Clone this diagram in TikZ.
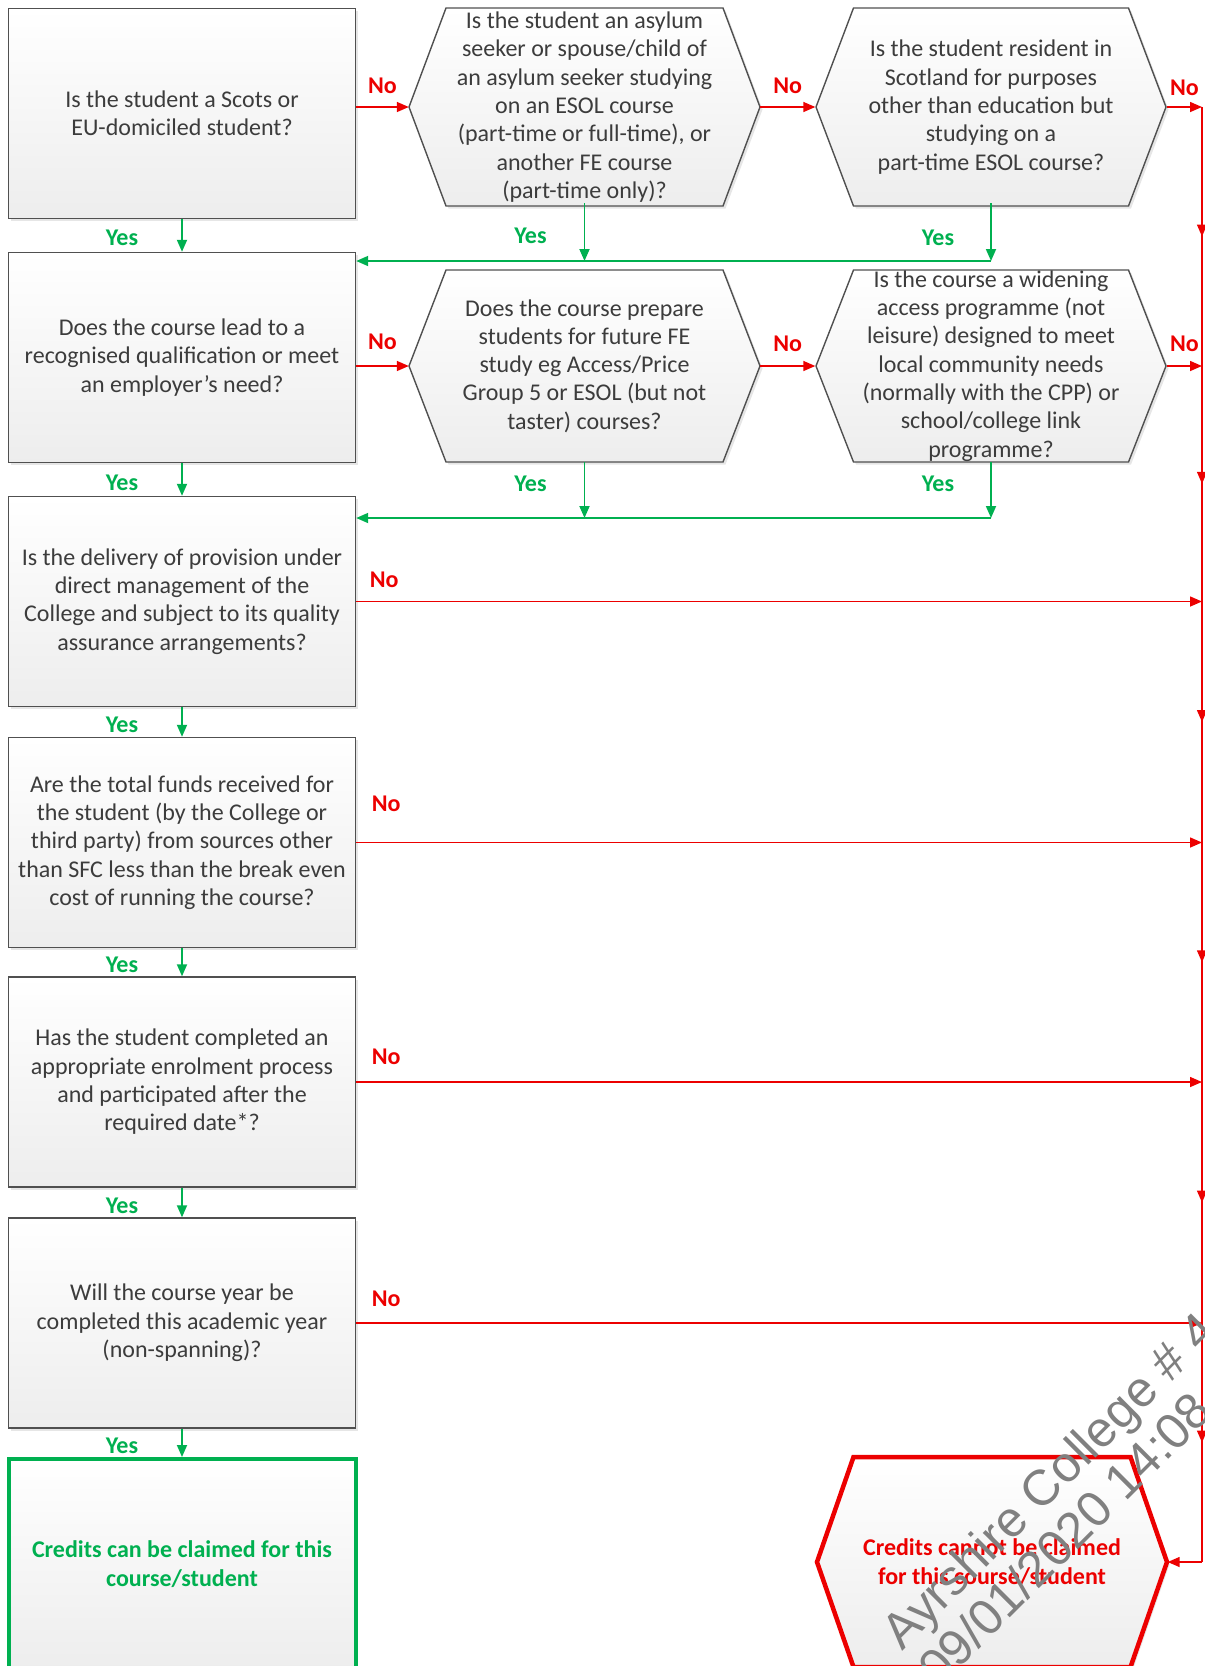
\documentclass[tikz,border=0pt]{standalone}
\usepackage{fontspec}
\setmainfont{Carlito}
\newfontfamily\wmfont{Liberation Sans}
\usetikzlibrary{arrows.meta, positioning, shadows, backgrounds, decorations.markings}

\definecolor{qgreen}{RGB}{0,176,80}
\definecolor{qred}{RGB}{236,0,0}
\definecolor{qline}{RGB}{80,80,80}
\definecolor{qtext}{RGB}{60,60,60}

\newcommand{\qsize}{\fontsize{24pt}{28.3pt}\selectfont}

% hexagon outline round a node: name, half top edge, half width, half height, style
\newcommand{\hexframe}[5]{%
  \draw[#5] ([xshift=-#2pt,yshift=#4pt]#1.center) -- ([xshift=#2pt,yshift=#4pt]#1.center)
    -- ([xshift=#3pt]#1.center) -- ([xshift=#2pt,yshift=-#4pt]#1.center)
    -- ([xshift=-#2pt,yshift=-#4pt]#1.center) -- ([xshift=-#3pt]#1.center) -- cycle;}

\tikzset{
  qbox/.style={rectangle, draw=qline, line width=1.4pt, top color=white, bottom color=black!7,
    minimum width=347pt, minimum height=210pt, align=center,
    inner sep=0pt, text=qtext,
    drop shadow={shadow xshift=2.5pt, shadow yshift=-2.5pt, opacity=0.2}},
  qhex/.style={rectangle, draw=none, minimum width=351pt, minimum height=192pt,
    align=center, inner sep=0pt, text=qtext},
  hexline/.style={draw=qline, line width=1.4pt, top color=white, bottom color=black!7,
    drop shadow={shadow xshift=2.5pt, shadow yshift=-2.5pt, opacity=0.2}},
  yesarrow/.style={draw=qgreen, line width=1.8pt, -{Triangle[length=12pt,width=10pt]}},
  noarrow/.style={draw=qred, line width=1.5pt, -{Triangle[length=12pt,width=10pt]}},
  yeslbl/.style={text=qgreen, font=\qsize\bfseries},
  nolbl/.style={text=qred, font=\qsize\bfseries},
  railseg/.style={draw=qred, line width=1.5pt, postaction={decorate},
    decoration={markings, mark=at position 0.5 with {\arrow{Triangle[length=12pt,width=10pt]}}}},
  wmark/.style={rotate=45, text=black!50, inner sep=0pt,
    font=\wmfont\fontsize{50pt}{56pt}\selectfont}
}

\begin{document}
\begin{tikzpicture}[x=1pt, y=-1pt, font=\qsize]
\useasboundingbox (0,0) rectangle (1205,1666);

% Main column of questions
\node[qbox] (box1) at (182,113.5) {Is the student a Scots or\\EU-domiciled student?};
\node[qbox] (box2) at (182,357.5) {Does the course lead to a\\recognised qualification or meet\\an employer’s need?};
\node[qbox] (box3) at (182,601.5) {Is the delivery of provision under\\direct management of the\\College and subject to its quality\\assurance arrangements?};
\node[qbox] (box4) at (182,842.5) {Are the total funds received for\\the student (by the College or\\third party) from sources other\\than SFC less than the break even\\cost of running the course?};
\node[qbox] (box5) at (182,1082) {Has the student completed an\\appropriate enrolment process\\and participated after the\\required date*?};
\node[qbox] (box6) at (182,1323) {Will the course year be\\completed this academic year\\(non-spanning)?};
\node[qbox, draw=qgreen, line width=4pt, text=qgreen, font=\qsize\bfseries] (box7) at (182,1564)
  {Credits can be claimed for this\\course/student};

% Side questions (hexagons)
\node[qhex] (hexA) at (584.5,107) {Is the student an asylum\\seeker or spouse/child of\\an asylum seeker studying\\on an ESOL course\\(part-time or full-time), or\\another FE course\\(part-time only)?};
\node[qhex] (hexB) at (991,107) {Is the student resident in\\Scotland for purposes\\other than education but\\studying on a\\part-time ESOL course?};
\node[qhex] (hexC) at (584.5,366) {Does the course prepare\\students for future FE\\study eg Access/Price\\Group 5 or ESOL (but not\\taster) courses?};
\node[qhex] (hexD) at (991,366) {Is the course a widening\\access programme (not\\leisure) designed to meet\\local community needs\\(normally with the CPP) or\\school/college link\\programme?};
\node[qhex, text=qred, font=\qsize\bfseries] (hexE) at (992,1562) {Credits cannot be claimed\\for this course/student};

\begin{scope}[on background layer]
  \hexframe{hexA}{138.5}{175.5}{99}{hexline}
  \hexframe{hexB}{137.5}{175}{99}{hexline}
  \hexframe{hexC}{138.5}{175.5}{96}{hexline}
  \hexframe{hexD}{137.5}{175}{96}{hexline}
  \hexframe{hexE}{138.5}{175}{105}{hexline, draw=qred, line width=4.5pt}
\end{scope}

% Yes branches
\coordinate (joinA) at (584.5,261);
\coordinate (joinB) at (991,261);
\coordinate (joinC) at (584.5,518);
\coordinate (joinD) at (991,518);
\draw[yesarrow] (box1.south) -- (box2.north) node[yeslbl, midway, xshift=-60pt, yshift=-2pt] {Yes};
\draw[yesarrow] (hexA.south) -- (joinA) node[yeslbl, midway, xshift=-54pt, yshift=-4pt] {Yes};
\draw[yesarrow] (hexB.south) -- (joinB) node[yeslbl, midway, xshift=-53pt, yshift=-6pt] {Yes};
\draw[yesarrow] (joinB) -- (joinB -| box2.east);
\draw[yesarrow] (box2.south) -- (box3.north) node[yeslbl, midway, xshift=-60pt, yshift=-3pt] {Yes};
\draw[yesarrow] (hexC.south) -- (joinC) node[yeslbl, midway, xshift=-54pt, yshift=6pt] {Yes};
\draw[yesarrow] (hexD.south) -- (joinD) node[yeslbl, midway, xshift=-53pt, yshift=6pt] {Yes};
\draw[yesarrow] (joinD) -- (joinD -| box3.east);
\draw[yesarrow] (box3.south) -- (box4.north) node[yeslbl, midway, xshift=-60pt, yshift=-3pt] {Yes};
\draw[yesarrow] (box4.south) -- (box5.north) node[yeslbl, midway, xshift=-60pt, yshift=-3pt] {Yes};
\draw[yesarrow] (box5.south) -- (box6.north) node[yeslbl, midway, xshift=-60pt, yshift=-3pt] {Yes};
\draw[yesarrow] (box6.south) -- (box7.north) node[yeslbl, midway, xshift=-60pt, yshift=-3pt] {Yes};

% No branches and the rail on the right
\coordinate (rail) at (1202,0);
\coordinate (j1) at (hexB.east -| rail);
\coordinate (j2) at (hexD.east -| rail);
\coordinate (j3) at (box3.east -| rail);
\coordinate (j4) at (box4.east -| rail);
\coordinate (j5) at (box5.east -| rail);
\coordinate (j6) at (box6.east -| rail);
\coordinate (j7) at (hexE.east -| rail);
\draw[noarrow] (hexA.west -| box1.east) -- (hexA.west) node[nolbl, midway, yshift=21pt] {No};
\draw[noarrow] (hexA.east) -- (hexB.west) node[nolbl, midway, yshift=21pt] {No};
\draw[noarrow] (hexB.east) -- (j1) node[nolbl, midway, yshift=19pt] {No};
\draw[noarrow] (hexC.west -| box2.east) -- (hexC.west) node[nolbl, midway, yshift=24pt] {No};
\draw[noarrow] (hexC.east) -- (hexD.west) node[nolbl, midway, yshift=22pt] {No};
\draw[noarrow] (hexD.east) -- (j2) node[nolbl, midway, yshift=22pt] {No};
\draw[noarrow] (box3.east) -- (j3) node[nolbl, pos=0, xshift=28pt, yshift=22pt] {No};
\draw[noarrow] (box4.east) -- (j4) node[nolbl, pos=0, xshift=30pt, yshift=39pt] {No};
\draw[noarrow] (box5.east) -- (j5) node[nolbl, pos=0, xshift=30pt, yshift=25pt] {No};
\draw[noarrow] (box6.east) -- (j6) node[nolbl, pos=0, xshift=30pt, yshift=24pt] {No};
\draw[railseg] (j1) -- (j2);
\draw[railseg] (j2) -- (j3);
\draw[railseg] (j3) -- (j4);
\draw[railseg] (j4) -- (j5);
\draw[railseg] (j5) -- (j6);
\draw[railseg] (j6) -- (j7);
\draw[noarrow] (j7) -- (hexE.east);

% Watermark
\node[wmark, anchor=base west] (wmA) at (902,1652) {Ayrshire College \# 4};
\node[wmark, anchor=base west] (wmB) at (939,1689) {09/01/2020 14:08};

\end{tikzpicture}
\end{document}
